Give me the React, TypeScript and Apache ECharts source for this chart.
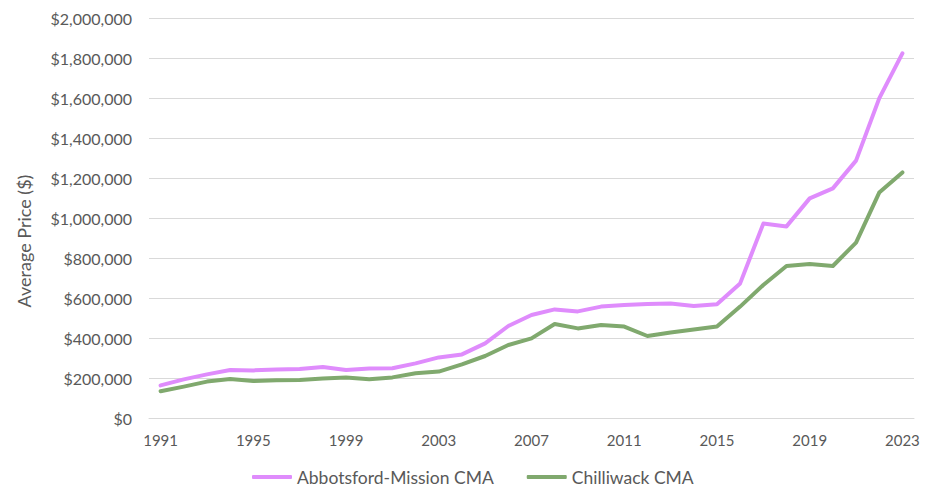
import React, { useEffect, useRef } from "react";
import * as echarts from "echarts";

const years: string[] = [];
for (let y = 1991; y <= 2023; y++) years.push(String(y));

const abbotsford = [
  163000, 193000, 218000, 240000, 238000, 243000, 245000, 255000, 240000, 247000,
  249000, 273000, 303000, 318000, 373000, 460000, 515000, 543000, 533000, 557000,
  565000, 570000, 573000, 560000, 569000, 673000, 972000, 958000, 1098000, 1148000,
  1287000, 1598000, 1823000,
];

const chilliwack = [
  134000, 157000, 182000, 195000, 185000, 189000, 190000, 197000, 203000, 194000,
  203000, 224000, 232000, 268000, 310000, 365000, 398000, 470000, 448000, 465000,
  457000, 410000, 428000, 442000, 457000, 557000, 665000, 760000, 770000, 760000,
  877000, 1127000, 1228000,
];

const seriesNames = ["Abbotsford-Mission CMA", "Chilliwack CMA"];
const colors = ["#DF8CFC", "#80A96E"];
const yAxisTitle = "Average Price ($)";

export default function App() {
  const ref = useRef<HTMLDivElement>(null);
  useEffect(() => {
    if (!ref.current) return;
    const chart = echarts.init(ref.current, null, { renderer: "svg" });
    const font = "Lato, 'Open Sans', sans-serif";
    chart.setOption({
      animation: false,
      textStyle: { fontFamily: font },
      grid: { left: 149, right: 14, top: 18, bottom: 74, containLabel: false },
      graphic: [
        {
          type: "text",
          x: 24,
          y: 241,
          rotation: Math.PI / 2,
          style: {
            text: yAxisTitle,
            fill: "#595959",
            font: "18px Lato, 'Open Sans', sans-serif",
            align: "center",
            verticalAlign: "middle",
          },
        },
      ],
      legend: {
        bottom: 1,
        left: 247,
        itemWidth: 40,
        itemHeight: 4,
        itemGap: 33,
        icon: "roundRect",
        data: seriesNames,
        textStyle: { color: "#595959", fontSize: 17.5, fontFamily: font },
      },
      xAxis: {
        type: "category",
        data: years,
        boundaryGap: true,
        axisTick: { show: false },
        axisLine: { lineStyle: { color: "#d9d9d9", width: 1 } },
        axisLabel: {
          interval: 3,
          color: "#595959",
          fontSize: 15,
          margin: 14,
          fontFamily: font,
        },
      },
      yAxis: {
        type: "value",
        min: 0,
        max: 2000000,
        interval: 200000,
        axisLine: { show: false },
        axisTick: { show: false },
        splitLine: { lineStyle: { color: "#d9d9d9", width: 1 } },
        axisLabel: {
          color: "#595959",
          fontSize: 16,
          margin: 17,
          fontFamily: font,
          formatter: (v: number) => "$" + v.toLocaleString("en-US"),
        },
      },
      series: [
        {
          name: seriesNames[0],
          type: "line",
          data: abbotsford,
          symbol: "none",
          color: colors[0],
          lineStyle: { width: 4, color: colors[0], cap: "round", join: "round" },
        },
        {
          name: seriesNames[1],
          type: "line",
          data: chilliwack,
          symbol: "none",
          color: colors[1],
          lineStyle: { width: 4, color: colors[1], cap: "round", join: "round" },
        },
      ],
    });
    return () => chart.dispose();
  }, []);
  return (
    <div
      ref={ref}
      style={{ position: "absolute", left: 0, top: 0, width: 928, height: 492, background: "#fff" }}
    />
  );
}
